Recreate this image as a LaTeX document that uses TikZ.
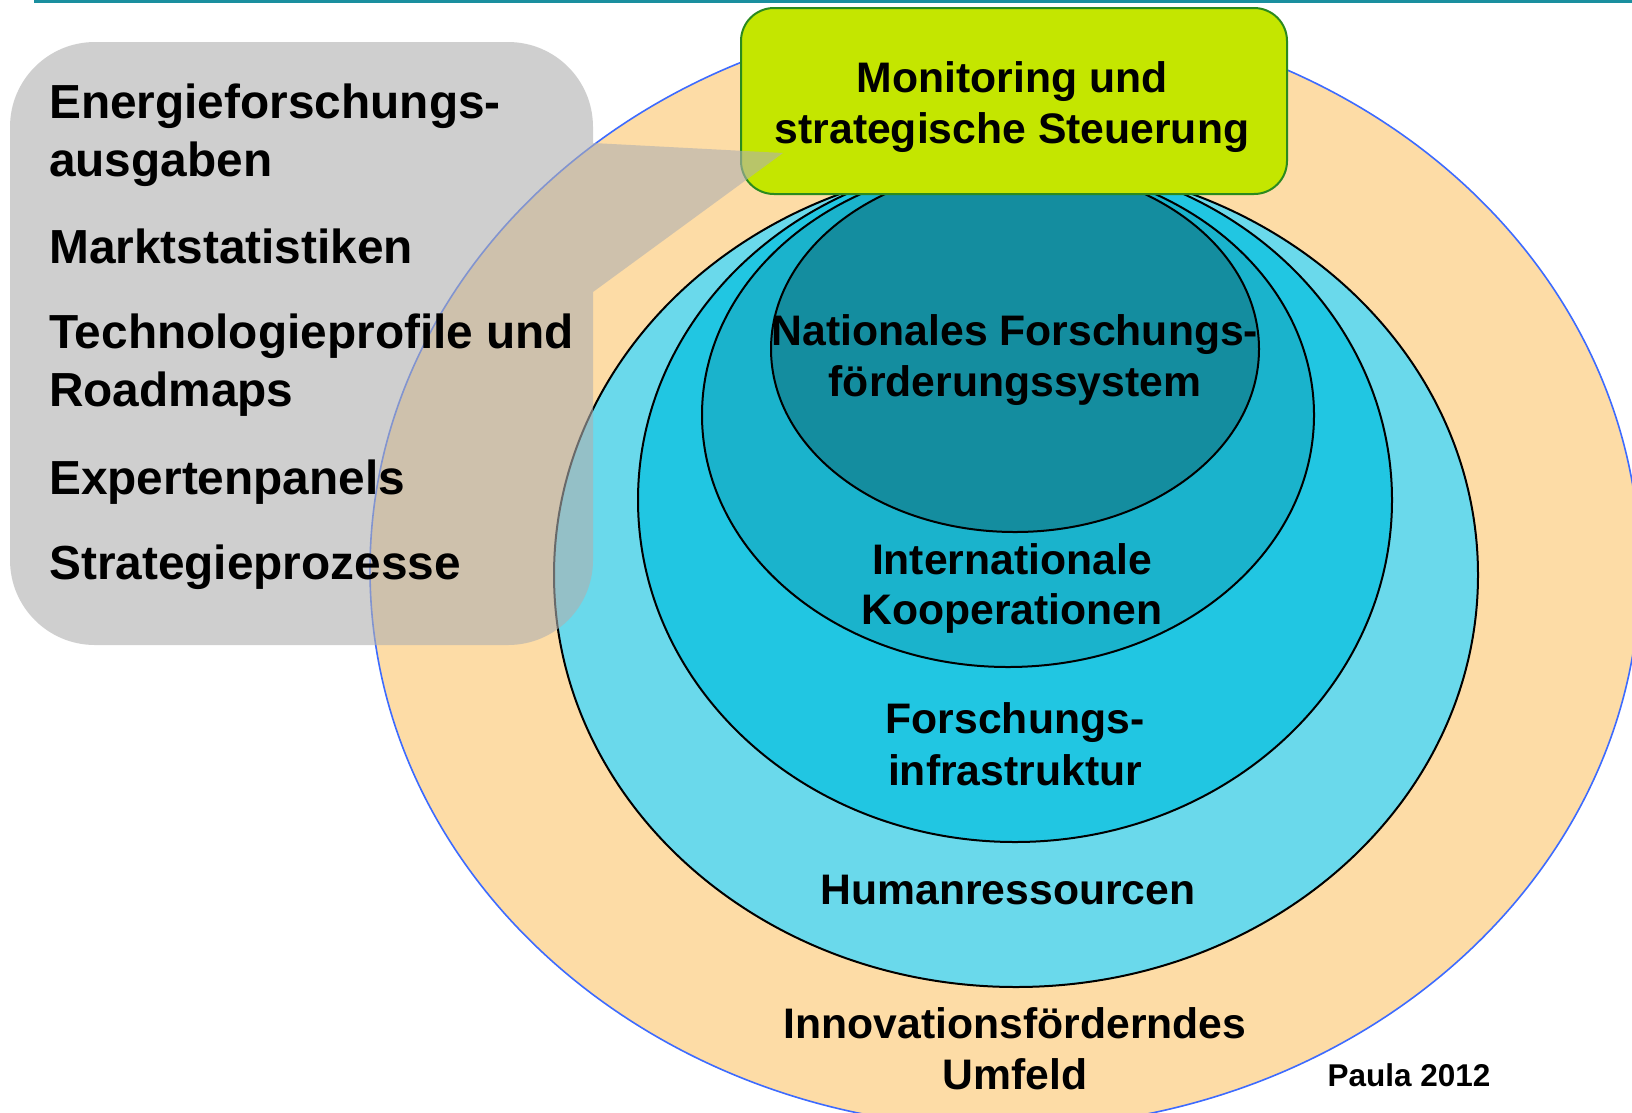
\documentclass[tikz,border=0pt]{standalone}
\usepackage{fontspec}
\setmainfont{Liberation Sans}
\definecolor{topline}{HTML}{1A8F9F}
\definecolor{peach}{HTML}{FDDCA6}
\definecolor{outerblue}{HTML}{3D6BFF}
\definecolor{ringA}{HTML}{6AD9EB}
\definecolor{ringB}{HTML}{21C6E2}
\definecolor{ringC}{HTML}{1AB3CC}
\definecolor{ringD}{HTML}{148D9F}
\definecolor{lime}{HTML}{C4E600}
\definecolor{limeborder}{HTML}{2B8A1E}
\definecolor{callgray}{HTML}{B0B0B0}
\begin{document}
\begin{tikzpicture}[x=1pt,y=-1pt,
  ring/.style={draw=black, line width=2pt},
  lbl/.style={font=\bfseries\fontsize{42.7}{50}\selectfont, anchor=base, inner sep=0pt, text=black},
  listlbl/.style={font=\bfseries\fontsize{47.8}{56}\selectfont, anchor=base west, inner sep=0pt, text=black},
  smalllbl/.style={font=\bfseries\fontsize{31.5}{36}\selectfont, anchor=base, inner sep=0pt, text=black}]
\clip (0,0) rectangle (1632,1112);
\fill[white] (0,0) rectangle (1632,1112);
% top rule
\coordinate (ruleL) at (34,1.5);
\coordinate (ruleR) at (1632,1.5);
\draw[topline, line width=3.5pt] (ruleL) -- (ruleR);
% outer environment ellipse
\draw[fill=peach, draw=outerblue, line width=1.6pt] (1005,570) ellipse [x radius=635, y radius=558];
% nested rings
\draw[ring, fill=ringA] (1016,575) ellipse [x radius=462, y radius=412];
\draw[ring, fill=ringB] (1015,500) ellipse [x radius=377, y radius=342];
\draw[ring, fill=ringC] (1008,415) ellipse [x radius=306, y radius=252];
\draw[ring, fill=ringD] (1015,349) ellipse [x radius=244, y radius=183];
% monitoring box
\node[draw=limeborder, fill=lime, line width=2pt, rounded corners=33pt,
      minimum width=546pt, minimum height=186pt, inner sep=0pt] (mon) at (1014,101) {};
% grey callout with pointer
\fill[callgray, fill opacity=0.6]
  (593,292) -- (593,560)
  .. controls (593,607) and (555,645) .. (508,645)
  -- (95,645)
  .. controls (48,645) and (10,607) .. (10,560)
  -- (10,127)
  .. controls (10,80) and (48,42) .. (95,42)
  -- (508,42)
  .. controls (555,42) and (593,80) .. (593,127)
  -- (593,143) -- (783,153) -- cycle;
% list texts
\node[listlbl] (l1) at (49,118) {Energieforschungs-};
\node[listlbl] (l2) at (49,176) {ausgaben};
\node[listlbl] (l3) at (49,263) {Marktstatistiken};
\node[listlbl] (l4) at (49,348) {Technologieprofile und};
\node[listlbl] (l5) at (49,406) {Roadmaps};
\node[listlbl] (l6) at (49,494) {Expertenpanels};
\node[listlbl] (l7) at (49,579) {Strategieprozesse};
% box text
\node[lbl] (m1) at (1012,92) {Monitoring und};
\node[lbl] (m2) at (1012,143) {strategische Steuerung};
% ring texts
\node[lbl] (n1) at (1015,345) {Nationales Forschungs-};
\node[lbl] (n2) at (1015,396) {förderungssystem};
\node[lbl] (i1) at (1012,574) {Internationale};
\node[lbl] (i2) at (1012,624) {Kooperationen};
\node[lbl] (f1) at (1015,733) {Forschungs-};
\node[lbl] (f2) at (1015,785) {infrastruktur};
\node[lbl] (h1) at (1008,904) {Humanressourcen};
\node[lbl] (u1) at (1015,1038) {Innovationsförderndes};
\node[lbl] (u2) at (1015,1089) {Umfeld};
\node[smalllbl] (src) at (1409,1086) {Paula 2012};
\end{tikzpicture}
\end{document}
